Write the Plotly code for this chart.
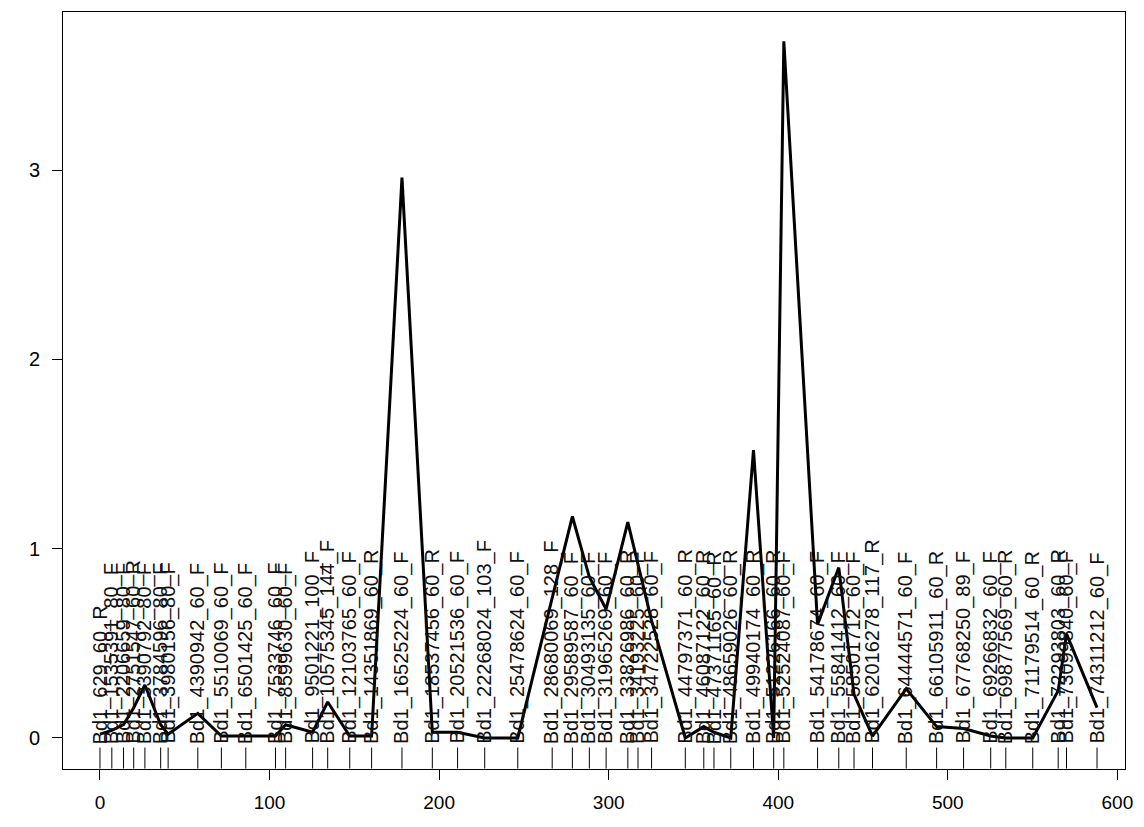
import plotly.graph_objects as go

# Marker positions along the chromosome map and their scores
positions = [0, 7.0, 13.9, 19.9, 26.5, 35.8, 40.2, 57.7, 71.6, 86.0, 103.5, 109.5,
             125.4, 134.3, 147.3, 160.2, 178.1, 196.0, 210.9, 226.9, 246.4, 266.7,
             278.6, 288.6, 298.5, 311.3, 317.3, 325.3, 345.2, 356.1, 362.1, 372.0,
             385.4, 397.3, 403.3, 423.2, 435.7, 444.7, 455.6, 475.5, 493.4, 509.3,
             525.3, 534.2, 550.1, 565.1, 570.0, 588.0]

scores = [0.02, 0.04, 0.07, 0.16, 0.28, 0.07, 0.02, 0.13, 0.01, 0.01, 0.01, 0.07,
          0.03, 0.19, 0.01, 0.01, 2.96, 0.03, 0.03, 0.0, 0.0, 0.74,
          1.17, 0.85, 0.68, 1.14, 0.92, 0.62, 0.0, 0.06, 0.03, 0.0,
          1.52, 0.0, 3.68, 0.60, 0.90, 0.23, 0.01, 0.26, 0.06, 0.05,
          0.01, 0.0, 0.0, 0.25, 0.55, 0.16]

markers = ["Bd1_629_60_R", "Bd1_1535391_80_F", "Bd1_2206659_80_F", "Bd1_2751547_60_R",
           "Bd1_3390792_80_F", "Bd1_3784596_80_F", "Bd1_3980156_80_F", "Bd1_4390942_60_F",
           "Bd1_5510069_60_F", "Bd1_6501425_60_F", "Bd1_7533746_60_F", "Bd1_8599630_60_F",
           "Bd1_9501221_100_F", "Bd1_10575345_144_F", "Bd1_12103765_60_F", "Bd1_14351869_60_R",
           "Bd1_16525224_60_F", "Bd1_18537456_60_R", "Bd1_20521536_60_F", "Bd1_22268024_103_F",
           "Bd1_25478624_60_F", "Bd1_28680069_128_F", "Bd1_29589587_60_F", "Bd1_30493135_60_F",
           "Bd1_31965269_60_F", "Bd1_33826986_60_R", "Bd1_34193225_60_F", "Bd1_34722528_60_F",
           "Bd1_44797371_60_R", "Bd1_46087122_60_R", "Bd1_47371165_60_R", "Bd1_48659026_60_R",
           "Bd1_49940174_60_R", "Bd1_51226166_60_R", "Bd1_52524087_60_F", "Bd1_54178674_60_F",
           "Bd1_55841412_60_F", "Bd1_58501712_60_F", "Bd1_62016278_117_R", "Bd1_64444571_60_F",
           "Bd1_66105911_60_R", "Bd1_67768250_89_F", "Bd1_69266832_60_F", "Bd1_69877569_60_R",
           "Bd1_71179514_60_R", "Bd1_72293803_60_R", "Bd1_73099840_60_F", "Bd1_74311212_60_F"]

x_ticks = [0, 100, 200, 300, 400, 500, 600]
y_ticks = [0, 1, 2, 3]

FONT = "Liberation Sans, Arial, sans-serif"
RUG_Y = -0.106

fig = go.Figure()

# score profile
fig.add_trace(go.Scatter(
    x=positions, y=scores, mode="lines",
    line=dict(color="black", width=3),
    hoverinfo="skip", showlegend=False,
))

# rug of marker positions along the bottom
fig.add_trace(go.Scatter(
    x=positions, y=[RUG_Y] * len(positions), mode="markers",
    marker=dict(symbol="line-ns", size=15, color="black",
                line=dict(color="black", width=1)),
    hoverinfo="skip", showlegend=False,
))

# vertical marker names starting at the zero line
annotations = []
for xp, name in zip(positions, markers):
    annotations.append(dict(
        x=xp, y=0, xref="x", yref="y", text=name, textangle=-90,
        showarrow=False, xanchor="center", yanchor="bottom",
        font=dict(family=FONT, size=20, color="#111111"),
        borderpad=0, yshift=-7,
    ))

fig.update_layout(
    width=1144, height=827,
    margin=dict(l=63, r=11, t=12, b=58),
    paper_bgcolor="white", plot_bgcolor="white",
    annotations=annotations,
    font=dict(family=FONT, size=20, color="black"),
    xaxis=dict(
        range=[-21.8, 604.5], tickvals=x_ticks, ticktext=[str(v) for v in x_ticks],
        showgrid=False, zeroline=False, showline=True, mirror=True,
        linecolor="black", linewidth=1, ticks="outside", ticklen=10,
        tickcolor="black", tickfont=dict(family=FONT, size=19),
        ticklabelstandoff=6,
    ),
    yaxis=dict(
        range=[-0.164, 3.835], tickvals=y_ticks, ticktext=[str(v) for v in y_ticks],
        showgrid=False, zeroline=False, showline=True, mirror=True,
        linecolor="black", linewidth=1, ticks="outside", ticklen=10,
        tickcolor="black", tickfont=dict(family=FONT, size=20),
        ticklabelstandoff=8,
    ),
)

fig.write_html("out.html")
